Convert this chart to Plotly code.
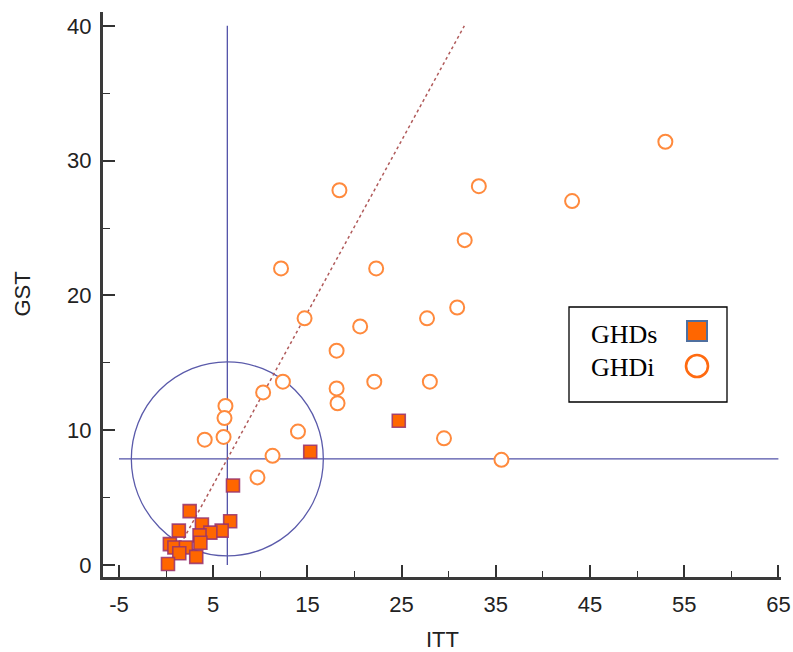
import plotly.graph_objects as go

# ---------------- data ----------------
ghdi_itt = [53.0, 43.1, 33.2, 18.4, 31.7, 12.2, 22.3, 30.9, 27.7, 14.7, 20.6, 18.1, 18.1, 18.2,
            12.4, 22.1, 28.0, 10.3, 6.3, 6.2, 6.1, 4.1, 14.0, 29.5, 11.3, 35.6, 9.7]
ghdi_gst = [31.4, 27.0, 28.1, 27.8, 24.1, 22.0, 22.0, 19.1, 18.3, 18.3, 17.7, 15.9, 13.1, 12.0,
            13.6, 13.6, 13.6, 12.8, 11.8, 10.9, 9.5, 9.3, 9.9, 9.4, 8.1, 7.8, 6.5]

ghds_itt = [24.7, 15.3, 7.1, 6.8, 2.5, 3.8, 5.9, 4.7, 3.55, 1.35, 3.64, 0.4, 0.88, 2.1, 1.4, 3.2, 0.2]
ghds_gst = [10.7, 8.4, 5.9, 3.25, 4.0, 3.0, 2.55, 2.4, 2.2, 2.55, 1.65, 1.55, 1.3, 1.3, 0.87, 0.6, 0.07]

ref_itt = 6.5          # vertical reference line
ref_gst = 7.87         # horizontal reference line
diag_itt = [0.34, 31.66]   # dotted diagonal line
diag_gst = [0.0, 40.0]

x_ticks = [-5, 5, 15, 25, 35, 45, 55, 65]
y_ticks = [0, 10, 20, 30, 40]
legend_labels = ["GHDs", "GHDi"]

# ---------------- layout helpers ----------------
W, H = 793, 652
L, R, T, B = 103, 12, 12, 75
PW, PH = W - L - R, H - T - B


def px(xp):
    return (xp - L) / PW


def py(yp):
    return (H - B - yp) / PH


fig = go.Figure()

fig.add_trace(go.Scatter(
    x=diag_itt, y=diag_gst, mode="lines",
    line=dict(color="#b05a5a", width=1.5, dash="dot"),
    hoverinfo="skip", showlegend=False))

fig.add_trace(go.Scatter(
    x=ghdi_itt, y=ghdi_gst, mode="markers", name="GHDi",
    marker=dict(symbol="circle", size=14, color="white",
                line=dict(color="#ff8a3d", width=2)),
    showlegend=False))

fig.add_trace(go.Scatter(
    x=ghds_itt, y=ghds_gst, mode="markers", name="GHDs",
    marker=dict(symbol="square", size=13, color="#ff6600",
                line=dict(color="rgba(150,50,110,0.85)", width=1.6)),
    showlegend=False))

shapes = []
line_col = "#5252a8"
# reference lines
shapes.append(dict(type="line", xref="x", yref="y", x0=ref_itt, x1=ref_itt,
                   y0=y_ticks[0], y1=y_ticks[-1], line=dict(color=line_col, width=1.3), layer="below"))
shapes.append(dict(type="line", xref="x", yref="y", x0=x_ticks[0], x1=x_ticks[-1],
                   y0=ref_gst, y1=ref_gst, line=dict(color=line_col, width=1.3), layer="below"))
# circle around the reference point
shapes.append(dict(type="circle", xref="x", yref="y",
                   xsizemode="pixel", ysizemode="pixel",
                   xanchor=ref_itt, yanchor=ref_gst,
                   x0=-96, x1=96, y0=-97, y1=97,
                   line=dict(color="#5a5aaa", width=1.3), layer="below"))

# custom legend box
shapes.append(dict(type="rect", xref="paper", yref="paper",
                   x0=px(569), x1=px(727), y0=py(402), y1=py(307),
                   line=dict(color="black", width=1.3), fillcolor="white"))
shapes.append(dict(type="rect", xref="paper", yref="paper",
                   xsizemode="pixel", ysizemode="pixel",
                   xanchor=px(697), yanchor=py(331),
                   x0=-10, x1=10, y0=-10, y1=10,
                   line=dict(color="#4f6f9f", width=2), fillcolor="#ff6600"))
shapes.append(dict(type="circle", xref="paper", yref="paper",
                   xsizemode="pixel", ysizemode="pixel",
                   xanchor=px(697), yanchor=py(366),
                   x0=-11, x1=11, y0=-11, y1=11,
                   line=dict(color="#ff6a10", width=2.6), fillcolor="white"))

annotations = [
    dict(text=legend_labels[0], xref="paper", yref="paper", x=px(589), y=py(334),
         xanchor="left", yanchor="middle", showarrow=False,
         font=dict(family="Liberation Serif", size=26, color="black")),
    dict(text=legend_labels[1], xref="paper", yref="paper", x=px(589), y=py(367),
         xanchor="left", yanchor="middle", showarrow=False,
         font=dict(family="Liberation Serif", size=26, color="black")),
    dict(text="ITT", xref="paper", yref="paper", x=0.5, y=0, yanchor="middle",
         yshift=-(639 - (H - B)), showarrow=False,
         font=dict(family="Liberation Sans", size=22, color="#222")),
    dict(text="GST", xref="paper", yref="paper", x=0, y=0.5, xanchor="center",
         xshift=-(L - 22), textangle=-90, showarrow=False,
         font=dict(family="Liberation Sans", size=22, color="#222")),
]

x_lo = -5 - (119 - L) / 9.42
x_hi = -5 + (781 - 119) / 9.42
y_hi = (565 - T) / 13.48
y_lo = -(H - B - 565) / 13.48

fig.update_layout(
    width=W, height=H,
    margin=dict(l=L, r=R, t=T, b=B, autoexpand=False),
    paper_bgcolor="white", plot_bgcolor="white",
    shapes=shapes, annotations=annotations,
    showlegend=False,
    xaxis=dict(range=[x_lo, x_hi], tickvals=x_ticks, ticktext=[str(v) for v in x_ticks],
               automargin=False,
               ticks="inside", ticklen=12, tickwidth=2, tickcolor="#333",
               minor=dict(ticks="inside", ticklen=6, tickwidth=1.2, tickcolor="#333",
                          tickvals=[0, 10, 20, 30, 40, 50, 60]),
               showline=True, linecolor="#3a3a3a", linewidth=3,
               showgrid=False, zeroline=False, ticklabelstandoff=6,
               tickfont=dict(family="Liberation Sans", size=22, color="#222")),
    yaxis=dict(range=[y_lo, y_hi], tickvals=y_ticks, ticktext=[str(v) for v in y_ticks],
               automargin=False,
               ticks="inside", ticklen=12, tickwidth=2, tickcolor="#333",
               minor=dict(ticks="inside", ticklen=7, tickwidth=1.2, tickcolor="#333",
                          tickvals=[5, 15, 25, 35]),
               showline=True, linecolor="#3a3a3a", linewidth=3,
               showgrid=False, zeroline=False, ticklabelstandoff=4,
               tickfont=dict(family="Liberation Sans", size=22, color="#222")),
)

fig.write_html("out.html")
